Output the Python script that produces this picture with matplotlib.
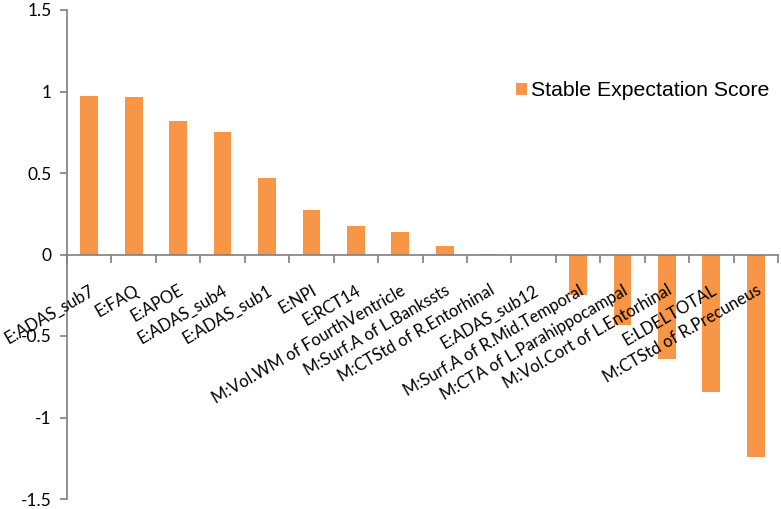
import matplotlib.pyplot as plt
from matplotlib.ticker import NullFormatter

labels = ["E:ADAS_sub7", "E:FAQ", "E:APOE", "E:ADAS_sub4", "E:ADAS_sub1",
          "E:NPI", "E:RCT14", "M:Vol.WM of FourthVentricle",
          "M:Surf.A of L.Bankssts", "M:CTStd of R.Entorhinal", "E:ADAS_sub12",
          "M:Surf.A of R.Mid.Temporal", "M:CTA of L.Parahippocampal",
          "M:Vol.Cort of L.Entorhinal", "E:LDELTOTAL", "M:CTStd of R.Precuneus"]
scores = [0.971, 0.968, 0.816, 0.752, 0.470, 0.274, 0.172, 0.139,
          0.053, 0.005, 0.0, -0.250, -0.430, -0.644, -0.845, -1.243]
yticks = [-1.5, -1, -0.5, 0, 0.5, 1, 1.5]
ytick_labels = ["-1.5", "-1", "-0.5", "0", "0.5", "1", "1.5"]

orange = '#F79646'
grey = '#7f7f7f'

fig = plt.figure(figsize=(7.81, 5.09), dpi=100)
ax = fig.add_axes([67/781, 10/509, 711/781, 489/509])

x = list(range(len(labels)))
bars = ax.bar(x, scores, width=0.4, color=orange, label="Stable Expectation Score")

ax.set_xlim(-0.5, len(labels) - 0.5)
ax.set_ylim(-1.5, 1.5)

for s in ['top', 'right']:
	ax.spines[s].set_visible(False)
ax.spines['bottom'].set_position(('data', 0))
ax.spines['bottom'].set_color(grey)
ax.spines['bottom'].set_linewidth(1.2)
ax.spines['left'].set_color(grey)
ax.spines['left'].set_linewidth(1.2)
ax.set_axisbelow(False)

ax.set_yticks(yticks)
ax.set_yticklabels(ytick_labels, fontsize=12.5, family='Lato')
ax.tick_params(axis='y', direction='out', length=5, width=1.2, color=grey, pad=6)

# boundary ticks (no labels) and centred labels
ax.set_xticks([i - 0.5 for i in range(len(labels) + 1)])
ax.xaxis.set_major_formatter(NullFormatter())
ax.tick_params(axis='x', which='major', direction='out', length=6, width=1.2, color=grey)
ax.set_xticks(x, labels, minor=True, rotation=30, ha='right',
              rotation_mode='anchor', fontsize=12, family='Lato')
ax.tick_params(axis='x', which='minor', length=0, pad=20)

ax.legend(loc='center left', bbox_to_anchor=(516/781, 1 - 91/509),
          bbox_transform=fig.transFigure, frameon=False, borderpad=0,
          borderaxespad=0,
          prop={'family': 'Liberation Sans', 'size': 15.3},
          handlelength=0.5, handleheight=0.5, handletextpad=0.2)

plt.savefig('out.png', dpi=100)
